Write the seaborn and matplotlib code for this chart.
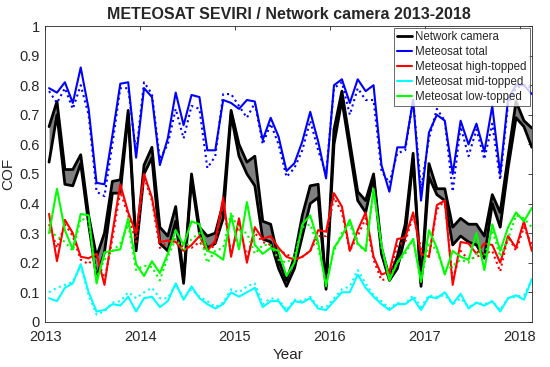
import matplotlib
matplotlib.use('Agg')
import matplotlib.pyplot as plt
import numpy as np
import pandas as pd
import seaborn as sns

# ===== data (monthly, Jan 2013 - Feb 2018) =====
months = pd.period_range('2013-01', '2018-02', freq='M')

cam_upper = [0.66, 0.745, 0.515, 0.515, 0.565, 0.36, 0.22, 0.30, 0.475, 0.48, 0.715, 0.26,
             0.53, 0.59, 0.32, 0.29, 0.39, 0.145, 0.50, 0.32, 0.29, 0.30, 0.40, 0.715,
             0.60, 0.54, 0.56, 0.34, 0.33, 0.21, 0.14, 0.22, 0.36, 0.46, 0.465, 0.12,
             0.65, 0.78, 0.61, 0.44, 0.41, 0.50, 0.25, 0.15, 0.22, 0.33, 0.57, 0.13,
             0.535, 0.45, 0.45, 0.32, 0.35, 0.33, 0.33, 0.29, 0.43, 0.37, 0.56, 0.745,
             0.68, 0.655]
cam_lower = [0.54, 0.70, 0.465, 0.46, 0.535, 0.33, 0.15, 0.235, 0.435, 0.435, 0.70, 0.24,
             0.50, 0.555, 0.265, 0.24, 0.34, 0.13, 0.48, 0.30, 0.25, 0.265, 0.35, 0.70,
             0.56, 0.50, 0.46, 0.28, 0.27, 0.18, 0.12, 0.18, 0.29, 0.40, 0.42, 0.11,
             0.60, 0.75, 0.58, 0.41, 0.37, 0.49, 0.23, 0.14, 0.18, 0.29, 0.55, 0.12,
             0.49, 0.43, 0.41, 0.26, 0.29, 0.27, 0.26, 0.215, 0.40, 0.32, 0.52, 0.69,
             0.66, 0.59]

total = [0.79, 0.775, 0.81, 0.74, 0.86, 0.72, 0.47, 0.465, 0.63, 0.805, 0.81, 0.555,
         0.79, 0.76, 0.53, 0.62, 0.775, 0.665, 0.767, 0.76, 0.58, 0.58, 0.75, 0.74,
         0.72, 0.75, 0.745, 0.615, 0.69, 0.626, 0.51, 0.536, 0.61, 0.71, 0.61, 0.485,
         0.80, 0.82, 0.74, 0.82, 0.78, 0.80, 0.53, 0.44, 0.59, 0.59, 0.75, 0.41,
         0.64, 0.70, 0.68, 0.50, 0.68, 0.60, 0.67, 0.575, 0.73, 0.50, 0.755, 0.80,
         0.80, 0.77]
total_2 = [0.78, 0.74, 0.79, 0.72, 0.80, 0.70, 0.44, 0.425, 0.60, 0.79, 0.79, 0.57,
           0.81, 0.77, 0.55, 0.60, 0.72, 0.62, 0.73, 0.72, 0.52, 0.56, 0.77, 0.77,
           0.73, 0.69, 0.74, 0.60, 0.67, 0.60, 0.49, 0.52, 0.58, 0.68, 0.58, 0.50,
           0.79, 0.81, 0.70, 0.79, 0.75, 0.75, 0.51, 0.47, 0.57, 0.58, 0.75, 0.45,
           0.62, 0.72, 0.68, 0.44, 0.66, 0.56, 0.65, 0.55, 0.67, 0.48, 0.74, 0.79,
           0.80, 0.79]

high = [0.365, 0.205, 0.345, 0.30, 0.22, 0.215, 0.23, 0.125, 0.30, 0.465, 0.37, 0.30,
        0.50, 0.42, 0.27, 0.275, 0.27, 0.24, 0.26, 0.29, 0.24, 0.275, 0.42, 0.22,
        0.35, 0.20, 0.32, 0.28, 0.29, 0.25, 0.22, 0.21, 0.22, 0.24, 0.31, 0.305,
        0.435, 0.39, 0.24, 0.31, 0.37, 0.22, 0.16, 0.17, 0.28, 0.285, 0.37, 0.23,
        0.22, 0.395, 0.41, 0.125, 0.27, 0.265, 0.23, 0.265, 0.26, 0.20, 0.29, 0.25,
        0.34, 0.24]
high_2 = [0.33, 0.25, 0.33, 0.29, 0.21, 0.195, 0.23, 0.14, 0.28, 0.44, 0.36, 0.27,
          0.49, 0.41, 0.25, 0.27, 0.28, 0.25, 0.25, 0.27, 0.24, 0.26, 0.40, 0.23,
          0.33, 0.22, 0.30, 0.27, 0.26, 0.24, 0.23, 0.21, 0.22, 0.24, 0.29, 0.29,
          0.42, 0.37, 0.24, 0.29, 0.35, 0.21, 0.14, 0.15, 0.26, 0.27, 0.36, 0.25,
          0.22, 0.38, 0.41, 0.14, 0.24, 0.21, 0.22, 0.23, 0.24, 0.17, 0.29, 0.24,
          0.32, 0.26]

mid = [0.08, 0.07, 0.115, 0.13, 0.195, 0.10, 0.035, 0.04, 0.06, 0.055, 0.085, 0.035,
       0.08, 0.085, 0.05, 0.07, 0.13, 0.075, 0.12, 0.08, 0.06, 0.045, 0.06, 0.10,
       0.085, 0.10, 0.115, 0.05, 0.07, 0.07, 0.035, 0.07, 0.065, 0.08, 0.045, 0.04,
       0.07, 0.10, 0.10, 0.16, 0.115, 0.085, 0.06, 0.04, 0.06, 0.06, 0.08, 0.04,
       0.085, 0.08, 0.10, 0.06, 0.095, 0.045, 0.065, 0.055, 0.07, 0.035, 0.08, 0.09,
       0.075, 0.145]
mid_2 = [0.10, 0.115, 0.125, 0.135, 0.19, 0.09, 0.025, 0.035, 0.065, 0.07, 0.10, 0.08,
         0.10, 0.115, 0.08, 0.08, 0.125, 0.08, 0.11, 0.085, 0.07, 0.05, 0.065, 0.11,
         0.10, 0.12, 0.13, 0.06, 0.08, 0.075, 0.04, 0.075, 0.07, 0.085, 0.05, 0.05,
         0.08, 0.11, 0.12, 0.175, 0.13, 0.09, 0.07, 0.045, 0.065, 0.06, 0.09, 0.05,
         0.09, 0.085, 0.09, 0.06, 0.08, 0.05, 0.065, 0.06, 0.07, 0.04, 0.08, 0.085,
         0.09, 0.14]

low = [0.30, 0.45, 0.31, 0.245, 0.365, 0.36, 0.13, 0.235, 0.24, 0.245, 0.35, 0.195,
       0.155, 0.205, 0.165, 0.23, 0.31, 0.26, 0.34, 0.33, 0.24, 0.23, 0.21, 0.36,
       0.245, 0.405, 0.26, 0.23, 0.25, 0.24, 0.155, 0.20, 0.33, 0.36, 0.27, 0.12,
       0.25, 0.29, 0.345, 0.265, 0.24, 0.45, 0.26, 0.14, 0.20, 0.24, 0.28, 0.135,
       0.31, 0.25, 0.16, 0.24, 0.22, 0.21, 0.30, 0.175, 0.33, 0.24, 0.32, 0.37,
       0.34, 0.385]
low_2 = [0.305, 0.29, 0.27, 0.24, 0.35, 0.34, 0.15, 0.21, 0.24, 0.265, 0.33, 0.175,
         0.19, 0.185, 0.14, 0.22, 0.28, 0.24, 0.28, 0.30, 0.20, 0.24, 0.25, 0.37,
         0.31, 0.30, 0.23, 0.26, 0.26, 0.21, 0.20, 0.22, 0.32, 0.33, 0.25, 0.13,
         0.24, 0.30, 0.33, 0.26, 0.24, 0.44, 0.25, 0.15, 0.20, 0.23, 0.28, 0.14,
         0.27, 0.24, 0.17, 0.19, 0.21, 0.20, 0.23, 0.22, 0.31, 0.22, 0.28, 0.36,
         0.35, 0.32]

# decimal year at mid-month
t = months.year + (months.month - 0.5) / 12

df = pd.DataFrame({'t': t, 'cam_upper': cam_upper, 'cam_lower': cam_lower,
                   'total': total, 'total_2': total_2, 'high': high, 'high_2': high_2,
                   'mid': mid, 'mid_2': mid_2, 'low': low, 'low_2': low_2})

# ===== plot =====
sns.set_style('white')
plt.rcParams['font.family'] = ['Liberation Sans', 'DejaVu Sans']

fig = plt.figure(figsize=(5.5, 3.67), dpi=100)
ax = fig.add_axes([0.082, 0.123, 0.885, 0.806])

ax.fill_between(df['t'], df['cam_lower'], df['cam_upper'], color='#808080', lw=0)
sns.lineplot(data=df, x='t', y='cam_upper', color='k', lw=2.0, ax=ax, label='Network camera')
sns.lineplot(data=df, x='t', y='cam_lower', color='k', lw=2.0, ax=ax)

series = [('total', '#0000ff', 'Meteosat total'),
          ('high', '#ff0000', 'Meteosat high-topped'),
          ('mid', '#00ffff', 'Meteosat mid-topped'),
          ('low', '#00ff00', 'Meteosat low-topped')]
for col, c, lab in series:
    sns.lineplot(data=df, x='t', y=col + '_2', color=c, lw=1.5, linestyle=':', ax=ax)
    sns.lineplot(data=df, x='t', y=col, color=c, lw=1.5, ax=ax, label=lab)

ax.set_xlim(2013, df['t'].iloc[-1])
ax.set_ylim(0, 1)
ax.set_xticks([2013, 2014, 2015, 2016, 2017, 2018])
ax.set_xticklabels(['2013', '2014', '2015', '2016', '2017', '2018'])
ax.set_yticks(np.arange(0, 1.01, 0.1))
ax.set_yticklabels(['0', '0.1', '0.2', '0.3', '0.4', '0.5', '0.6', '0.7', '0.8', '0.9', '1'])
ax.tick_params(direction='in', length=3, labelsize=10.5, top=True, right=True,
               color='#262626', labelcolor='#262626', width=0.6)
ax.tick_params(axis='x', pad=6)
ax.tick_params(axis='y', pad=4)
for s in ax.spines.values():
    s.set_color('#262626')
    s.set_linewidth(0.6)

ax.set_xlabel('Year', fontsize=11, color='#262626', labelpad=3)
ax.set_ylabel('COF', fontsize=11, color='#262626', labelpad=3)
ax.set_title('METEOSAT SEVIRI / Network camera 2013-2018', fontsize=11.5,
             fontweight='bold', pad=5)

leg = ax.legend(loc='upper right', fontsize=8.3, frameon=True, fancybox=False,
                borderpad=0.3, labelspacing=0.25, handlelength=1.3, handletextpad=0.25,
                borderaxespad=0.15)
leg.get_frame().set_edgecolor('#262626')
leg.get_frame().set_linewidth(0.6)

plt.savefig('out.png', dpi=100)
